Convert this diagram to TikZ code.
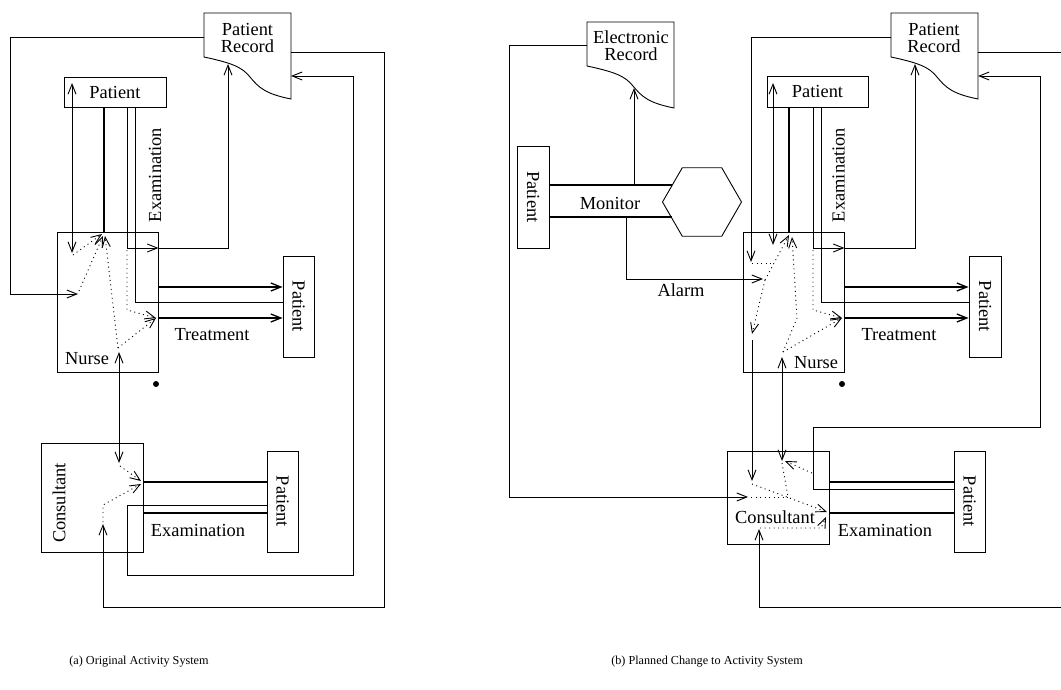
\documentclass[tikz,border=0pt]{standalone}
\usepackage{fontspec}
\setmainfont{Liberation Serif}
\usetikzlibrary{arrows.meta, shapes.geometric}

\begin{document}
\begin{tikzpicture}[x=1pt, y=-1pt, line width=0.9pt,
    font=\fontsize{18.4}{17}\selectfont,
    >={Straight Barb[length=10pt,width=8pt]},
    box/.style={draw, inner sep=0pt},
    act/.style={line width=1.3pt},
    dots/.style={dash pattern=on 1pt off 3.5pt},
    caption/.style={font=\fontsize{12.2}{14}\selectfont},
    record/.pic={
        \draw (0,0) -- (87,0) -- (87,86) .. controls (62,81) and (55,75) .. (46,64)
              .. controls (38,54) and (28,50) .. (0,44) -- cycle;
        \coordinate (-w) at (0,0);
        \coordinate (-e) at (87,0);
        \coordinate (-in) at (24,51);
    }]
    \useasboundingbox (0,0) rectangle (1061,690);
    \clip (0,0) rectangle (1061,690);

    % (a) Original activity system
    \pic (ra) at (204,13) {record};
    \node[align=center] (rat) at (247.5,38) {Patient\\Record};
    \node[box, minimum width=102, minimum height=30] (pa) at (115,92) {Patient};
    \node[box, minimum width=101, minimum height=140] (na) at (107.5,302) {};
    \node (nat) at (87,359) {Nurse};
    \node[box, minimum width=31, minimum height=101, label={[rotate=-90]center:Patient}] (pta) at (298.5,306.5) {};
    \node[box, minimum width=102, minimum height=109] (ca) at (92,497.5) {};
    \node[rotate=90] (cat) at (59,503) {Consultant};
    \node[box, minimum width=31, minimum height=101, label={[rotate=-90]center:Patient}] (pca) at (282.5,501.5) {};
    \node[rotate=90] (exa1) at (155,175) {Examination};
    \node (tra) at (212,335) {Treatment};
    \node (exa2) at (198,530) {Examination};
    \fill (156,384) circle (3pt);

    % record loops
    \draw[->] (ra-w |- 0,37) -| (10,294) -- (78,294);
    \draw[->] (ra-e |- 0,52) -| (384,607) -| (103,524);
    \draw[->] (pca.west |- 0,505) -| (127,575) -| (353,76) -- (ra-e |- 0,76);

    % patient, nurse and consultant
    \draw[<->] (72,83) -- (72,253);
    \draw[act] (pa.south -| 104,0) -- (na.north -| 104,0);
    \draw[->] (pa.south -| 127,0) |- (na.east |- 0,248);
    \draw[->] (na.east |- 0,248) -| (ra-in);
    \draw (pa.south -| 135,0) |- (pta.west |- 0,302);
    \draw[act, ->] (na.east |- 0,287) -- (pta.west |- 0,287);
    \draw[act, ->] (na.east |- 0,318) -- (pta.west |- 0,318);
    \draw[<->] (119,352) -- (119,463);
    \draw[act] (ca.east |- 0,482) -- (pca.west |- 0,482);
    \draw[act] (ca.east |- 0,513) -- (pca.west |- 0,513);

    % inside the activities
    \draw[dots, ->] (73,255) -- (102,234);
    \draw[dots, ->] (79,291) -- (103,236);
    \draw[dots, ->] (118,348) -- (105,236);
    \draw[dots, ->] (118,348) -- (156,318);
    \draw[dots, ->] (127,250) -- (127,310) -- (156,318);
    \draw[dots, ->] (120,466) -- (141,481);
    \draw[dots, ->] (103,522) -- (103,505) -- (141,484);

    % (b) Planned change
    \pic (re) at (587,22) {record};
    \node[align=center] (ret) at (631,46) {Electronic\\Record};
    \pic (rb) at (891,13) {record};
    \node[align=center] (rbt) at (934,38) {Patient\\Record};
    \node[box, minimum width=32, minimum height=102, label={[rotate=-90]center:Patient}] (pm) at (533,197) {};
    \node[draw, regular polygon, regular polygon sides=6, minimum size=79, inner sep=0pt] (hx) at (702,202) {};
    \node (mon) at (610,203) {Monitor};
    \node (alm) at (681,290) {Alarm};
    \node[box, minimum width=101, minimum height=31] (pb) at (817.5,91.5) {Patient};
    \node[box, minimum width=101, minimum height=140] (nb) at (793.5,302) {};
    \node (nbt) at (816,363) {Nurse};
    \node[box, minimum width=32, minimum height=101, label={[rotate=-90]center:Patient}] (ptb) at (985,306.5) {};
    \node[box, minimum width=102, minimum height=93] (cb) at (778,497.5) {};
    \node (cbt) at (775,517) {Consultant};
    \node[box, minimum width=31, minimum height=101, label={[rotate=-90]center:Patient}] (pcb) at (969.5,501.5) {};
    \node[rotate=90] (exb1) at (838.5,175) {Examination};
    \node (trb) at (899,335) {Treatment};
    \node (exb2) at (885,530) {Examination};
    \fill (842,384) circle (3pt);

    % monitor
    \draw[act] (pm.east |- 0,185) -- (672,185);
    \draw[act] (pm.east |- 0,217) -- (672,217);
    \draw[->] (634,185) -- (634,88);
    \draw[->] (626,217) |- (763,279);
    \draw[->] (re-w |- 0,45) -| (509,497) -- (748,497);

    % record loops
    \draw[->] (rb-w |- 0,37) -| (751,262);
    \draw[->] (rb-e |- 0,52) -| (1075,607) -| (759,529);
    \draw[->] (pcb.west |- 0,489) -| (813,427) -| (1040,76) -- (rb-e |- 0,76);

    % patient, nurse and consultant
    \draw[<->] (773,83) -- (773,245);
    \draw[act] (pb.south -| 789,0) -- (nb.north -| 789,0);
    \draw[->] (pb.south -| 813,0) |- (nb.east |- 0,248);
    \draw[->] (nb.east |- 0,248) -| (rb-in);
    \draw (pb.south -| 821,0) |- (ptb.west |- 0,302);
    \draw[act, ->] (nb.east |- 0,287) -- (ptb.west |- 0,287);
    \draw[act, ->] (nb.east |- 0,318) -- (ptb.west |- 0,318);
    \draw[->] (752,340) -- (752,481);
    \draw[<->] (782,357) -- (782,461);
    \draw[act] (cb.east |- 0,482) -- (pcb.west |- 0,482);
    \draw[act] (cb.east |- 0,513) -- (pcb.west |- 0,513);

    % inside the activities
    \draw[dots] (752,263) -- (774,263);
    \draw[dots, ->] (765,280) -- (789,235);
    \draw[dots, ->] (765,280) -- (752,334);
    \draw[dots, ->] (783,352) -- (797,318) -- (792,237);
    \draw[dots, ->] (783,352) -- (842,318);
    \draw[dots, ->] (813,250) -- (813,310) -- (842,318);
    \draw[dots, ->] (752,484) -- (827,512);
    \draw[dots] (751,497) -- (789,497);
    \draw[dots] (782,463) -- (788,497);
    \draw[dots, ->] (812,473) -- (785,461);
    \draw[dots, ->] (760,528) -- (821,528) -- (826,517);

    % captions
    \node[caption] (capa) at (139,662) {(a) Original Activity System};
    \node[caption] (capb) at (707,662) {(b) Planned Change to Activity System};
\end{tikzpicture}
\end{document}
